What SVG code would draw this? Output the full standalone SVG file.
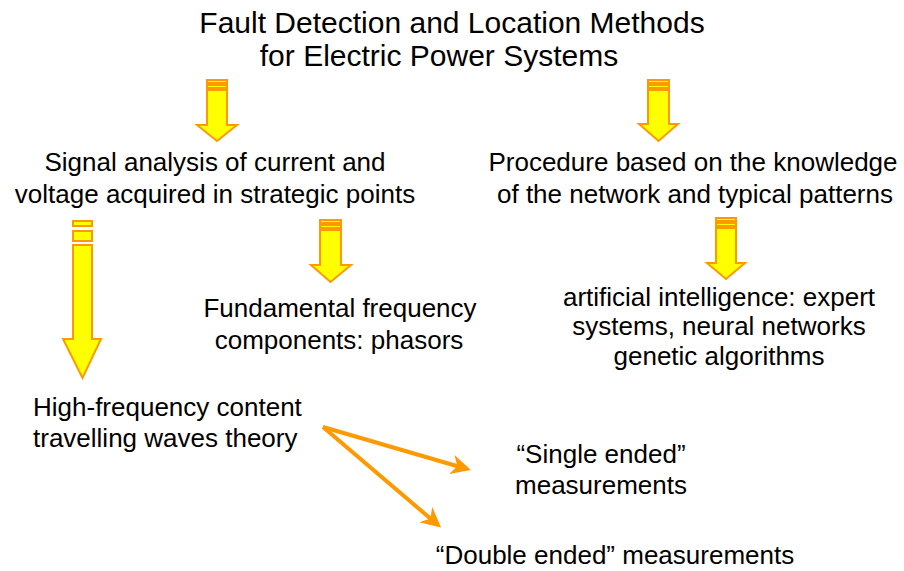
<svg xmlns="http://www.w3.org/2000/svg" width="904" height="571" viewBox="0 0 904 571">
<defs>
<style>
text{font-family:"Liberation Sans",Arial,sans-serif;fill:#000;text-anchor:middle}
.t{font-size:30px}
.b{font-size:26px}
.l{text-anchor:start}
.ya{fill:#FFFF00;stroke:#FF9900;stroke-width:2;stroke-linejoin:miter}
.con{stroke:#FF9900;stroke-width:4;fill:none}
</style>
<marker id="ah" viewBox="0 0 10 10" refX="8" refY="5" markerWidth="5" markerHeight="5" markerUnits="strokeWidth" orient="auto">
<path d="M0,0 L10,5 L0,10 L3,5 Z" fill="#FF9900"/>
</marker>
</defs>
<rect width="904" height="571" fill="#fff"/>

<g id="title">
<text class="t" x="452" y="33">Fault Detection and Location Methods</text>
<text class="t" x="439" y="66">for Electric Power Systems</text>
</g>

<g id="signal">
<text class="b" x="215" y="171">Signal analysis of current and</text>
<text class="b" x="215" y="203">voltage acquired in strategic points</text>
</g>

<g id="procedure">
<text class="b" x="693" y="171">Procedure based on the knowledge</text>
<text class="b" x="695" y="203">of the network and typical patterns</text>
</g>

<g id="fundamental">
<text class="b" x="340" y="317">Fundamental frequency</text>
<text class="b" x="339" y="349">components: phasors</text>
</g>

<g id="ai">
<text class="b" x="719" y="306">artificial intelligence: expert</text>
<text class="b" x="719" y="335">systems, neural networks</text>
<text class="b" x="719" y="365">genetic algorithms</text>
</g>

<g id="highfreq">
<text class="b l" x="33" y="416">High-frequency content</text>
<text class="b l" x="33" y="447">travelling waves theory</text>
</g>

<g id="single">
<text class="b" x="601" y="463">“Single ended”</text>
<text class="b" x="601" y="494">measurements</text>
</g>

<g id="double">
<text class="b" x="615" y="564">“Double ended” measurements</text>
</g>

<g id="block-arrows">
<g id="arrow-title-signal">
<rect class="ya" x="207" y="80" width="20" height="3"/>
<rect class="ya" x="207" y="85" width="20" height="3"/>
<path class="ya" d="M207,90 H227 V125 H237 L217,141 L197,125 H207 Z"/>
</g>
<g id="arrow-title-procedure">
<rect class="ya" x="648" y="80" width="21" height="3"/>
<rect class="ya" x="648" y="85" width="21" height="3"/>
<path class="ya" d="M648,90 H669 V124 H678 L658.5,141 L639,124 H648 Z"/>
</g>
<g id="arrow-signal-fundamental">
<rect class="ya" x="320" y="220" width="21" height="3"/>
<rect class="ya" x="320" y="225" width="21" height="3"/>
<path class="ya" d="M320,230 H341 V265 H351 L330.5,282 L311,265 H320 Z"/>
</g>
<g id="arrow-procedure-ai">
<rect class="ya" x="716" y="218" width="20" height="3"/>
<rect class="ya" x="716" y="223" width="20" height="3"/>
<path class="ya" d="M716,228 H736 V263 H745 L726,279 L707,263 H716 Z"/>
</g>
<g id="arrow-signal-highfreq">
<rect class="ya" x="73" y="221" width="19" height="5"/>
<rect class="ya" x="73" y="231" width="19" height="10"/>
<path class="ya" d="M73,245 H92 V339 H101 L82.5,378 L63,339 H73 Z"/>
</g>
</g>

<g id="connectors">
<line class="con" x1="323" y1="427" x2="467" y2="469" marker-end="url(#ah)"/>
<line class="con" x1="323" y1="427" x2="438" y2="525" marker-end="url(#ah)"/>
</g>
</svg>
